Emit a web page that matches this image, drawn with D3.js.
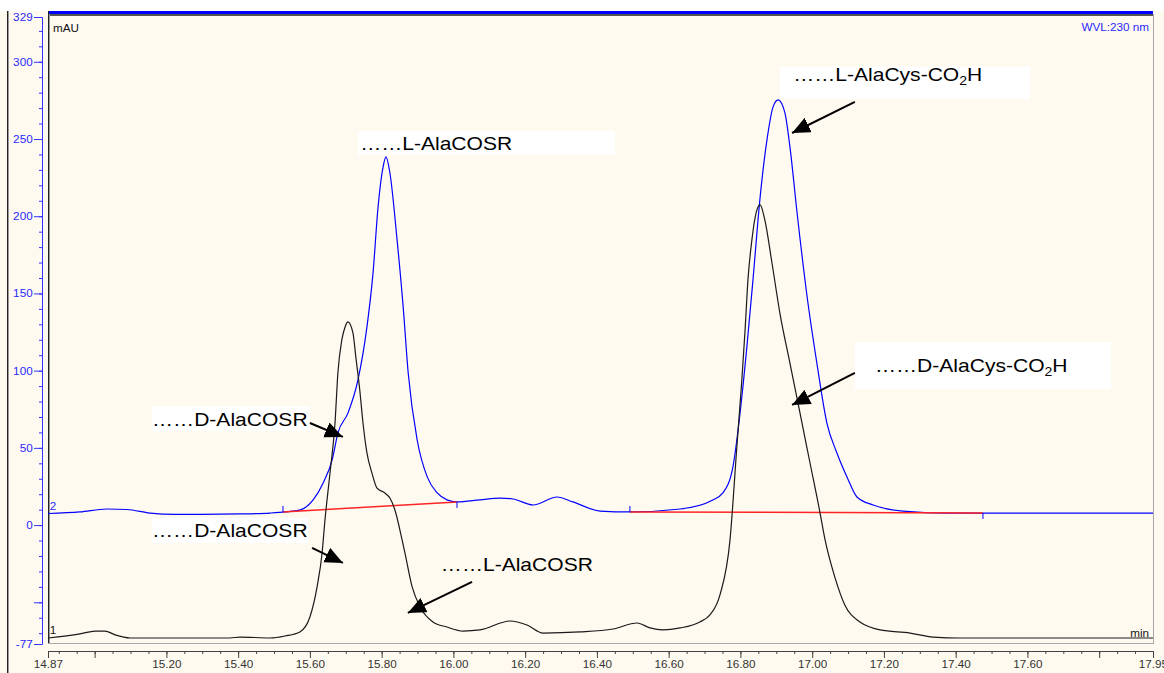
<!DOCTYPE html>
<html>
<head>
<meta charset="utf-8">
<script src="https://cdn.jsdelivr.net/npm/d3@7"></script>
<style>
  body { margin: 0; background: #fffaef; }
  svg { display: block; font-family: Arial, "Liberation Sans", sans-serif; }
</style>
</head>
<body>
<svg id="chart" width="1164" height="673"></svg>
<script>
// channel 2 (blue) - retention time (min) / absorbance (mAU)
var blueTime = [14.870, 14.959, 15.034, 15.090, 15.154, 15.224, 15.294, 15.405, 15.489, 15.531,
  15.573, 15.609, 15.637, 15.662, 15.678, 15.706, 15.734, 15.759, 15.776, 15.790,
  15.804, 15.812, 15.823, 15.843, 15.860, 15.874, 15.899, 15.927, 15.955, 15.982,
  16.010, 16.074, 16.130, 16.166, 16.222, 16.289, 16.333, 16.409, 16.492, 16.632,
  16.723, 16.751, 16.779, 16.799, 16.818, 16.835, 16.855, 16.874, 16.891, 16.905,
  16.924, 16.938, 16.958, 16.986, 17.013, 17.041, 17.069, 17.097, 17.125, 17.170,
  17.253, 17.376, 17.482, 17.950];
var blueMau = [7.5, 8.5, 10.4, 10.1, 7.8, 6.9, 6.9, 7.2, 7.8, 8.5,
  9.8, 16.3, 27.3, 42.2, 59.6, 72.5, 94.0, 128.3, 163.3, 206.0,
  231.9, 238.4, 228.0, 184.7, 141.3, 98.5, 55.1, 31.2, 20.8, 16.3,
  15.0, 16.3, 17.5, 16.9, 13.0, 18.2, 15.0, 9.1, 8.5, 10.4,
  16.3, 20.8, 37.6, 72.6, 115.4, 158.8, 212.5, 249.4, 270.8, 275.3,
  266.9, 244.9, 202.1, 147.7, 105.0, 66.1, 46.7, 31.2, 18.2, 13.0,
  9.1, 7.8, 7.8, 7.8];

// channel 1 (black)
var blackTime = [14.870, 14.959, 15.001, 15.029, 15.057, 15.099, 15.154, 15.377, 15.405, 15.489,
  15.531, 15.572, 15.600, 15.620, 15.634, 15.642, 15.656, 15.670, 15.678, 15.689,
  15.698, 15.706, 15.720, 15.728, 15.739, 15.748, 15.759, 15.773, 15.787, 15.809,
  15.823, 15.837, 15.857, 15.865, 15.885, 15.907, 15.943, 15.982, 16.027, 16.074,
  16.158, 16.205, 16.250, 16.353, 16.445, 16.512, 16.548, 16.584, 16.632, 16.687,
  16.715, 16.743, 16.771, 16.790, 16.804, 16.813, 16.821, 16.832, 16.846, 16.855,
  16.868, 16.888, 16.910, 16.938, 16.966, 16.994, 17.022, 17.036, 17.064, 17.091,
  17.133, 17.161, 17.189, 17.273, 17.337, 17.412, 17.950];
var blackMau = [-73.1, -70.5, -68.6, -68.6, -71.1, -73.1, -73.1, -73.1, -72.5, -73.1,
  -71.8, -69.2, -59.5, -40.0, -18.1, 3.3, 33.7, 66.1, 98.5, 119.9,
  128.3, 131.6, 124.4, 108.9, 87.5, 66.1, 46.7, 33.7, 24.0, 20.8,
  17.5, 9.8, -9.6, -18.1, -40.0, -53.0, -62.7, -66.0, -68.6, -67.9,
  -62.1, -64.7, -69.9, -69.2, -67.3, -63.4, -66.6, -67.9, -66.6, -62.7,
  -58.2, -45.2, -9.6, 50.6, 94.0, 126.4, 158.8, 184.7, 204.1, 207.3,
  197.6, 169.7, 137.3, 104.9, 72.6, 40.2, 7.8, -9.6, -34.3, -51.7,
  -62.7, -66.0, -67.9, -69.9, -72.5, -73.1, -73.1];

// integration baselines on channel 2: [t0, mau0, t1, mau1]
var baselines = [[15.525, 8.5, 16.010, 15.0], [16.492, 8.5, 17.476, 7.8]];

// axis ticks
var xLabelTicks = [14.87, 15.20, 15.40, 15.60, 15.80, 16.00, 16.20, 16.40, 16.60, 16.80, 17.00, 17.20, 17.40, 17.60, 17.95];
var xMajorTicks = [14.87, 15.00, 15.20, 15.40, 15.60, 15.80, 16.00, 16.20, 16.40, 16.60, 16.80, 17.00, 17.20, 17.40, 17.60, 17.80, 17.95];
var yLabelTicks = [329, 300, 250, 200, 150, 100, 50, 0, -77];
var yMajorTicks = [329, 300, 250, 200, 150, 100, 50, 0, -50, -77];

// annotations (data units)
var annText = [["……L-AlaCOSR"], ["……L-AlaCys-CO", "2", "H"], ["……D-AlaCys-CO", "2", "H"],
  ["……D-AlaCOSR"], ["……D-AlaCOSR"], ["……L-AlaCOSR"]];
var annAt = [[15.740, 242.9], [16.947, 287.6], [17.175, 99.1], [15.160, 64.2], [15.160, -7.7], [15.965, -29.7]];
var annBox = [[15.734, 16.450, 255.2, 239.7], [16.910, 17.607, 297.0, 275.9], [17.119, 17.833, 118.6, 88.1],
  [15.160, 15.600, 77.1, 61.0], [15.160, 15.595, 4.6, -11.6], null];
var annArrow = [null, [17.119, 274.0, 16.944, 253.9], [17.119, 98.5, 16.944, 77.8],
  [15.600, 66.1, 15.692, 57.1], [15.606, -14.8, 15.692, -24.5], [16.052, -36.8, 15.873, -56.9]];

var SX = 1.17; // horizontal stretch of the original picture

var svg = d3.select("#chart"),
  plotL = 48, plotR = 1153, plotT = 17, plotB = 644;

var x = d3.scaleLinear().domain([14.87, 17.95]).range([plotL, plotR]);
var y = d3.scaleLinear().domain([-77, 329]).range([plotB, plotT]);

svg.append("rect").attr("width", 1164).attr("height", 11).attr("fill", "#fff");

var defs = svg.append("defs");
defs.append("marker")
  .attr("id", "head")
  .attr("markerUnits", "userSpaceOnUse")
  .attr("markerWidth", 20).attr("markerHeight", 18)
  .attr("refX", 18).attr("refY", 8)
  .attr("orient", "auto")
  .append("path").attr("d", "M0,0L18,8L0,16Z").attr("fill", "#000");

// frame
svg.append("line").attr("x1", 7.5).attr("x2", 7.5).attr("y1", 11).attr("y2", 673).attr("stroke", "#222");
svg.append("line").attr("x1", 8.5).attr("x2", 8.5).attr("y1", 11).attr("y2", 673).attr("stroke", "#999");
svg.append("rect").attr("x", plotL).attr("y", 11).attr("width", plotR - plotL).attr("height", 3).attr("fill", "#0000ff");
svg.append("line").attr("x1", plotL).attr("x2", plotR).attr("y1", 15).attr("y2", 15).attr("stroke", "#555").attr("stroke-width", 2);
svg.append("line").attr("x1", plotL + 0.5).attr("x2", plotL + 0.5).attr("y1", 11).attr("y2", plotB).attr("stroke", "#222");
svg.append("line").attr("x1", plotL + 1.5).attr("x2", plotL + 1.5).attr("y1", 14).attr("y2", plotB).attr("stroke", "#999");
svg.append("line").attr("x1", plotR + 0.5).attr("x2", plotR + 0.5).attr("y1", 14).attr("y2", plotB).attr("stroke", "#a8a8a8");
svg.append("line").attr("x1", plotL).attr("x2", plotR).attr("y1", plotB - 0.5).attr("y2", plotB - 0.5).attr("stroke", "#a8a8a8");

// y axis
var yMinor = svg.append("g").attr("transform", "translate(42,0)")
  .call(d3.axisLeft(y).tickValues(d3.range(-70, 330, 10)).tickSize(3).tickSizeOuter(0).tickFormat(""));
var yAxis = svg.append("g").attr("transform", "translate(42,0)")
  .call(d3.axisLeft(y).tickValues(yMajorTicks).tickSize(8).tickSizeOuter(0)
    .tickFormat(function (d) { return yLabelTicks.indexOf(d) >= 0 ? d : ""; }));
svg.selectAll("g.tick line, .domain").attr("stroke", "#3333ff");
yAxis.selectAll("text")
  .attr("x", -8).attr("dy", "0.34em")
  .attr("transform", "scale(" + SX + ",1)")
  .attr("fill", "#2828ff").style("font-size", "10px").style("font-family", "Arial, 'Liberation Sans'");

// x axis
var xMinor = svg.append("g").attr("transform", "translate(0,651)")
  .call(d3.axisBottom(x).tickValues(d3.range(14.90, 17.951, 0.05)).tickSize(3).tickSizeOuter(0).tickFormat(""));
var xAxis = svg.append("g").attr("transform", "translate(0,651)")
  .call(d3.axisBottom(x).tickValues(xMajorTicks).tickSize(7).tickSizeOuter(0)
    .tickFormat(function (d) { return xLabelTicks.indexOf(d) >= 0 ? d.toFixed(2) : ""; }));
xMinor.selectAll("line, .domain").attr("stroke", "#444");
xAxis.selectAll("line, .domain").attr("stroke", "#444");
xAxis.selectAll("text")
  .attr("transform", "scale(" + SX + ",1)")
  .attr("fill", "#333").style("font-size", "10px").style("font-family", "Arial, 'Liberation Sans'");

// small labels
function smallText(t, px, py, color, anchor, size) {
  svg.append("g").attr("transform", "translate(" + px + "," + py + ") scale(" + SX + ",1)")
    .append("text").text(t).attr("fill", color).attr("text-anchor", anchor || "start")
    .style("font-size", (size || 10) + "px");
}
smallText("mAU", 53, 32, "#111");
smallText("WVL:230 nm", 1149, 31, "#2828ff", "end");
smallText("min", 1149, 637, "#111", "end");
smallText("2", x(14.875), y(10), "#2828ff", "start", 10);
smallText("1", x(14.875), y(-70.5), "#111", "start", 10);

// traces
var line = d3.line()
  .x(function (d) { return x(d[0]); })
  .y(function (d) { return y(d[1]); })
  .curve(d3.curveMonotoneX);

svg.append("path")
  .datum(blueTime.map(function (t, i) { return [t, blueMau[i]]; }))
  .attr("d", line).attr("fill", "none").attr("stroke", "#0000ff").attr("stroke-width", 1.2);

baselines.forEach(function (b) {
  svg.append("line")
    .attr("x1", x(b[0])).attr("y1", y(b[1])).attr("x2", x(b[2])).attr("y2", y(b[3]))
    .attr("stroke", "#ff2424").attr("stroke-width", 1.5);
  svg.append("line")
    .attr("x1", x(b[0])).attr("x2", x(b[0])).attr("y1", y(b[1])).attr("y2", y(b[1]) - 6)
    .attr("stroke", "#0000ff");
  svg.append("line")
    .attr("x1", x(b[2])).attr("x2", x(b[2])).attr("y1", y(b[3])).attr("y2", y(b[3]) + 6)
    .attr("stroke", "#0000ff");
});

svg.append("path")
  .datum(blackTime.map(function (t, i) { return [t, blackMau[i]]; }))
  .attr("d", line).attr("fill", "none").attr("stroke", "#1a1a1a").attr("stroke-width", 1.2);

// annotations
annText.forEach(function (parts, i) {
  var b = annBox[i];
  if (b) {
    svg.append("rect")
      .attr("x", x(b[0])).attr("y", y(b[2]))
      .attr("width", x(b[1]) - x(b[0])).attr("height", y(b[3]) - y(b[2]))
      .attr("fill", "#fff");
  }
  var txt = svg.append("g")
    .attr("transform", "translate(" + x(annAt[i][0]) + "," + y(annAt[i][1]) + ") scale(" + SX + ",1)")
    .append("text").attr("fill", "#000").style("font-size", "18px");
  txt.append("tspan").text(parts[0]);
  if (parts.length > 1) {
    txt.append("tspan").text(parts[1]).attr("dy", 4).style("font-size", "12px");
    txt.append("tspan").text(parts[2]).attr("dy", -4);
  }
  var a = annArrow[i];
  if (a) {
    svg.append("line")
      .attr("x1", x(a[0])).attr("y1", y(a[1])).attr("x2", x(a[2])).attr("y2", y(a[3]))
      .attr("stroke", "#000").attr("stroke-width", 2)
      .attr("marker-end", "url(#head)");
  }
});
</script>
</body>
</html>
